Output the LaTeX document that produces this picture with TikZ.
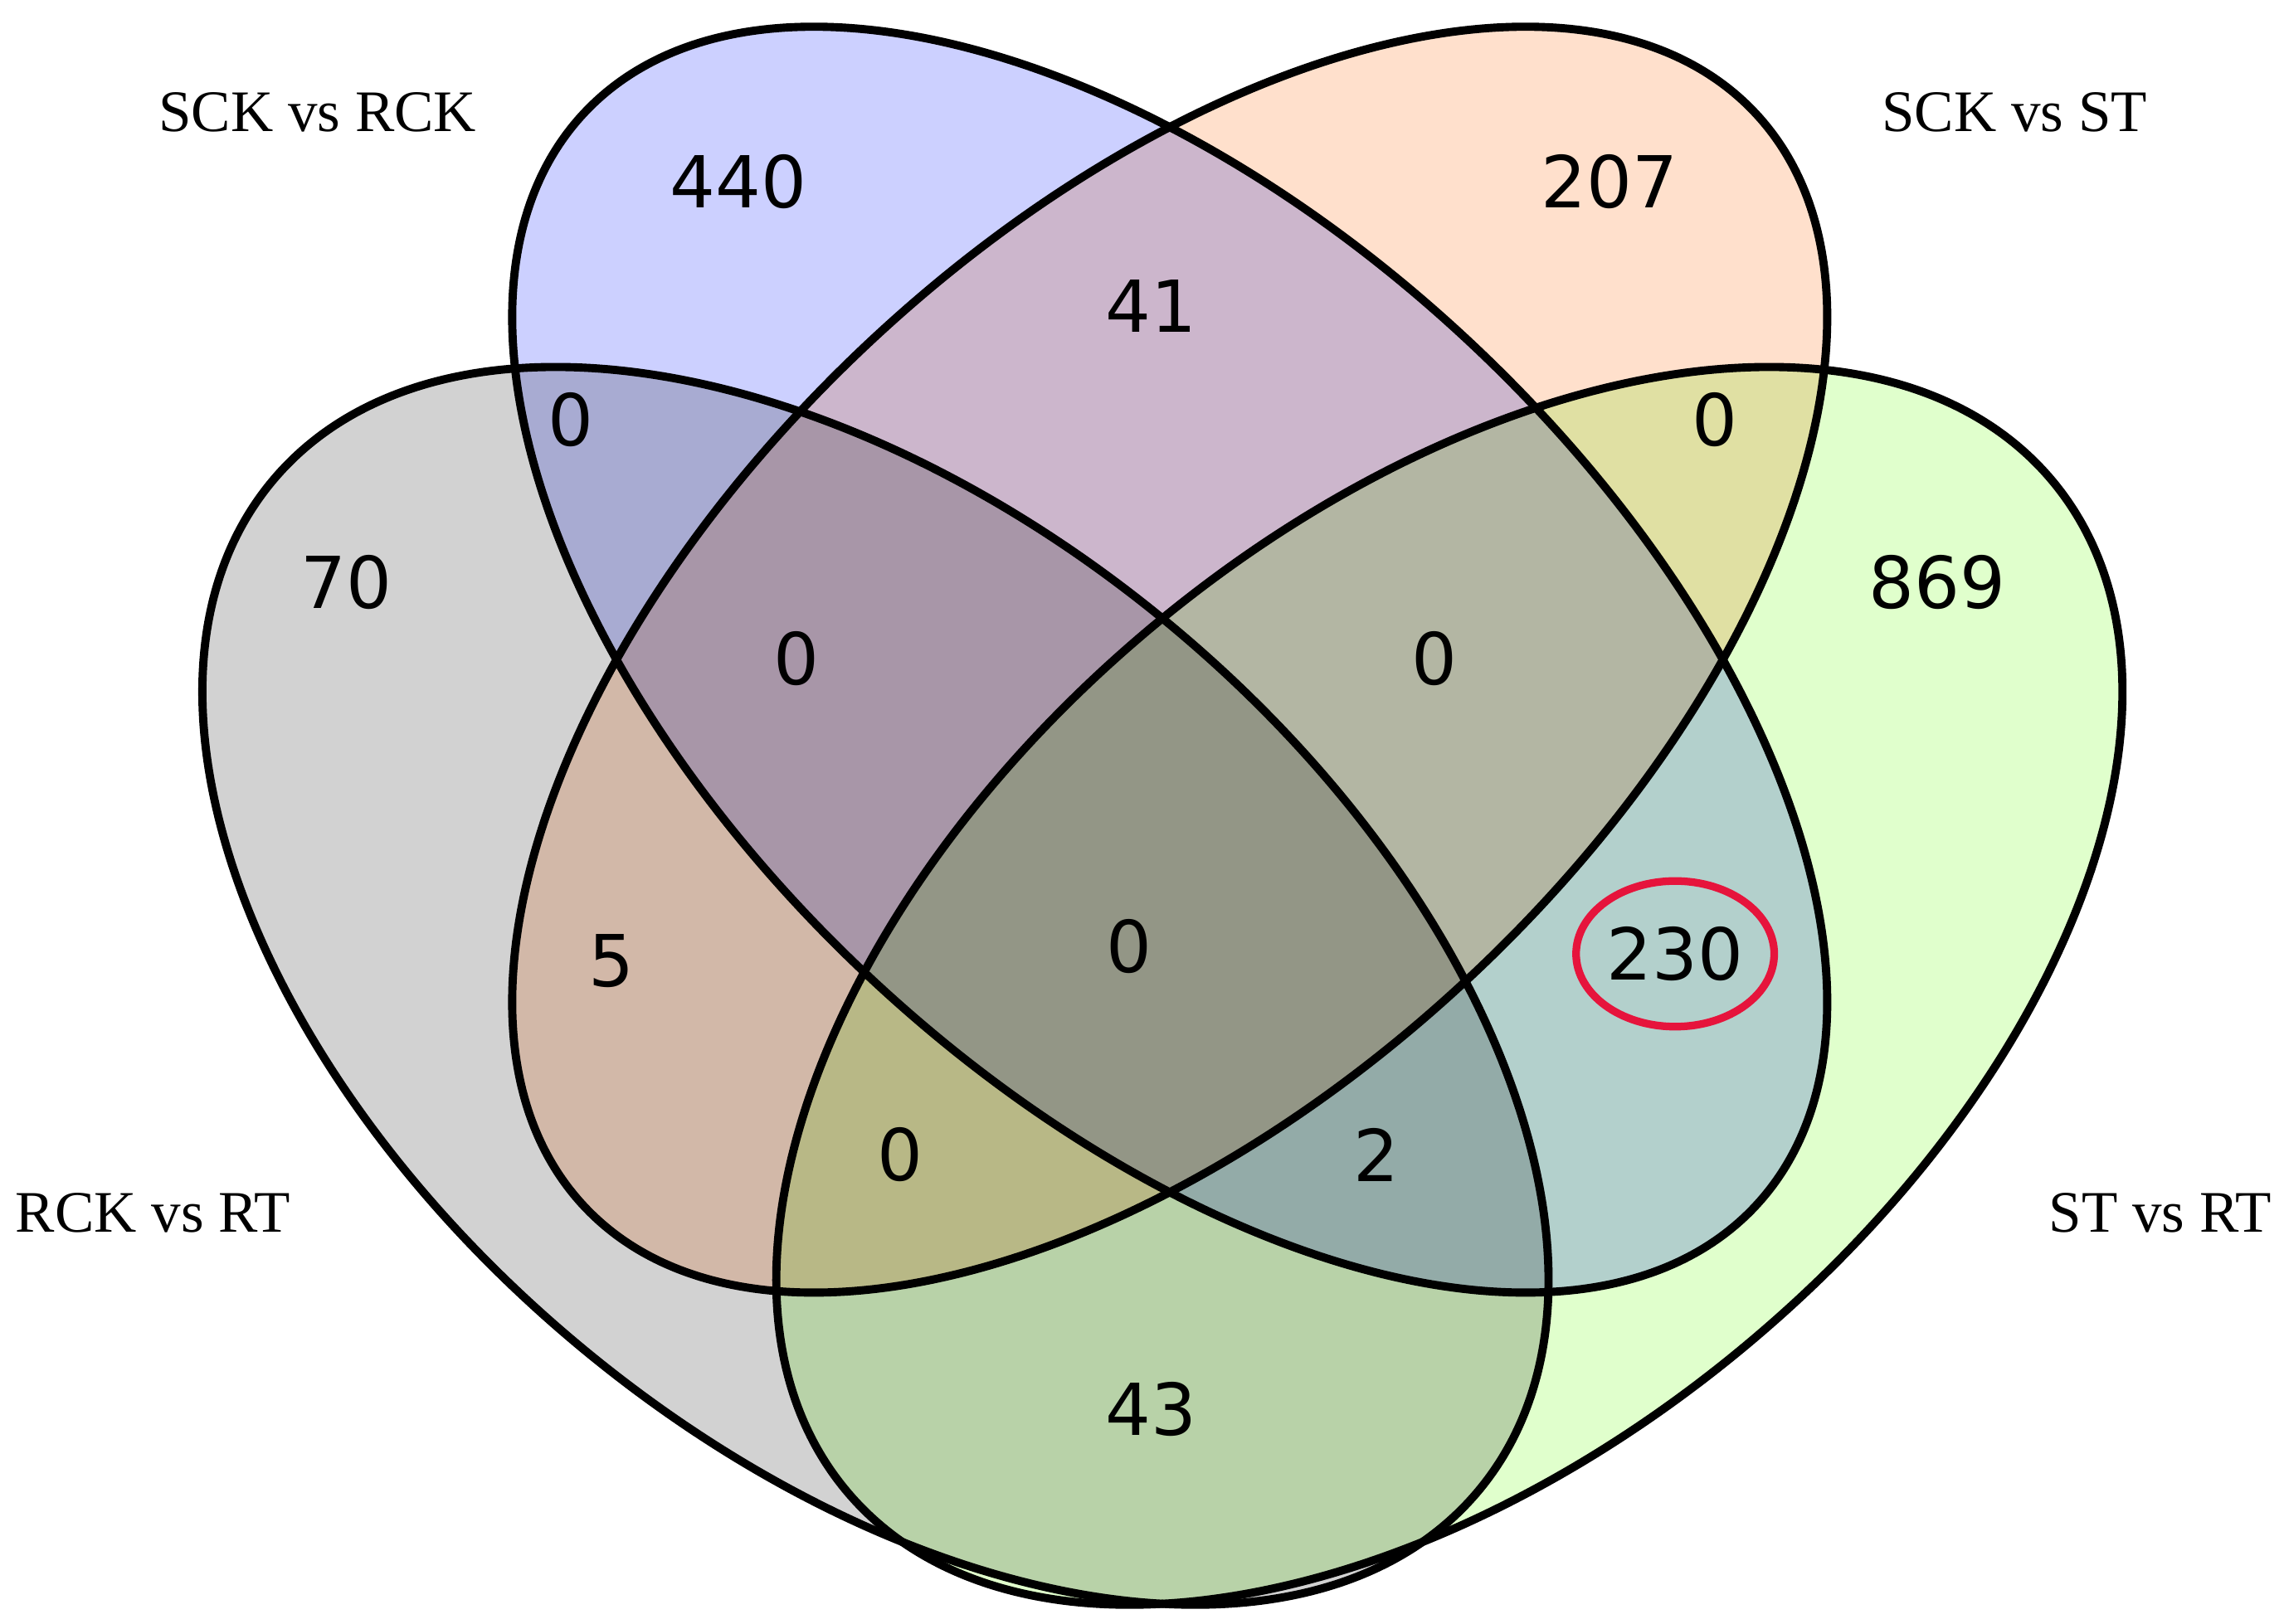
\documentclass[tikz,border=0pt]{standalone}
\usepackage{fontspec}
\usetikzlibrary{shapes.geometric}
\setmainfont{Liberation Serif}
\newfontfamily\numfont{DejaVu Sans}
\begin{document}
\begin{tikzpicture}
\useasboundingbox[fill=white] (0,0) rectangle (15.68,11.15);
\tikzset{num/.style={font=\numfont\fontsize{14}{16}\selectfont},
 setlab/.style={font=\fontsize{11.5}{13}\selectfont},
 border/.style={draw=black,line width=1.6pt}}
\definecolor{cgray}{RGB}{210,210,210}
\definecolor{cblue}{RGB}{204,208,255}
\definecolor{corange}{RGB}{255,224,204}
\definecolor{cgreen}{RGB}{224,255,204}
\definecolor{cred}{RGB}{230,20,60}
% fills
\begin{scope}[blend group=multiply]
\fill[cgray,rotate around={-40:(6.01,4.38)}] (6.01,4.38) ellipse [x radius=5.4,y radius=3.2];
\fill[cgreen,rotate around={40:(9.95,4.38)}] (9.95,4.38) ellipse [x radius=5.4,y radius=3.2];
\fill[cblue,rotate around={-43:(8.03,6.62)}] (8.03,6.62) ellipse [x radius=5.5,y radius=3.0];
\fill[corange,rotate around={43:(8.03,6.62)}] (8.03,6.62) ellipse [x radius=5.5,y radius=3.0];
\end{scope}
% borders
\draw[border,rotate around={-40:(6.01,4.38)}] (6.01,4.38) ellipse [x radius=5.4,y radius=3.2];
\draw[border,rotate around={40:(9.95,4.38)}] (9.95,4.38) ellipse [x radius=5.4,y radius=3.2];
\draw[border,rotate around={-43:(8.03,6.62)}] (8.03,6.62) ellipse [x radius=5.5,y radius=3.0];
\draw[border,rotate around={43:(8.03,6.62)}] (8.03,6.62) ellipse [x radius=5.5,y radius=3.0];
% numbers
\node[num] (n440) at (5.07,9.90) {440};
\node[num] (n207) at (11.05,9.90) {207};
\node[num] (n41) at (7.90,9.05) {41};
\node[num] (n0a) at (3.92,8.27) {0};
\node[num] (n0b) at (11.77,8.27) {0};
\node[num] (n70) at (2.38,7.15) {70};
\node[num] (n869) at (13.30,7.15) {869};
\node[num] (n0c) at (5.47,6.63) {0};
\node[num] (n0d) at (9.85,6.63) {0};
\node[num] (n5) at (4.20,4.55) {5};
\node[num] (n0e) at (7.75,4.65) {0};
\node[num] (n230) at (11.50,4.60) {230};
\node[num] (n0f) at (6.18,3.22) {0};
\node[num] (n2) at (9.45,3.22) {2};
\node[num] (n43) at (7.90,1.47) {43};
\node[draw=cred,line width=1.5pt,ellipse,minimum width=1.36cm,minimum height=1.0cm,inner sep=0pt] (hl) at (n230) {};
% set labels
\node[setlab] (l1) at (2.18,10.38) {SCK vs RCK};
\node[setlab] (l2) at (13.83,10.38) {SCK vs ST};
\node[setlab] (l3) at (1.05,2.82) {RCK vs RT};
\node[setlab] (l4) at (14.83,2.82) {ST vs RT};
\end{tikzpicture}
\end{document}
